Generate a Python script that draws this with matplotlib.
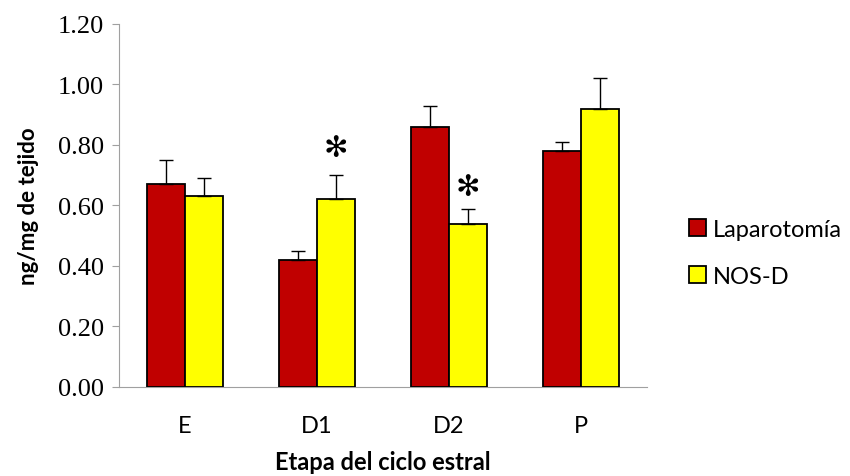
import matplotlib
matplotlib.use('Agg')
import matplotlib.pyplot as plt
import numpy as np

# etapas del ciclo estral
etapas = ['E', 'D1', 'D2', 'P']
laparotomia = [0.67, 0.42, 0.86, 0.78]
laparotomia_err = [0.08, 0.03, 0.07, 0.03]
nosd = [0.63, 0.62, 0.54, 0.92]
nosd_err = [0.06, 0.08, 0.05, 0.10]
# asteriscos de significancia (indice de etapa, altura)
signif = [(1, 0.79), (2, 0.66)]

fig = plt.figure(figsize=(8.5, 4.77), dpi=100)
ax = fig.add_axes([0.14, 0.1866, 0.621, 0.761])

x = np.arange(len(etapas))
w = 0.29
ax.bar(x - w/2, laparotomia, w, color='#C00000', edgecolor='black', linewidth=1.3,
       yerr=[np.zeros(4), laparotomia_err], error_kw=dict(ecolor='black', elinewidth=1, capsize=5, capthick=1),
       label='Laparotomía', zorder=3)
ax.bar(x + w/2, nosd, w, color='#FFFF00', edgecolor='black', linewidth=1.3,
       yerr=[np.zeros(4), nosd_err], error_kw=dict(ecolor='black', elinewidth=1, capsize=5, capthick=1),
       label='NOS-D', zorder=3)

for i, h in signif:
    ax.text(x[i] + w/2, h, '✻', ha='center', va='center', fontsize=21,
            family='DejaVu Sans', color='black')

ax.set_xlim(-0.5, 3.5)
ax.set_ylim(0, 1.2)
ax.set_yticks(np.arange(0, 1.21, 0.2))
ax.set_yticklabels(['%.2f' % v for v in np.arange(0, 1.21, 0.2)], family='Liberation Serif', fontsize=19)
ax.set_xticks(x)
ax.set_xticklabels(etapas, family='Lato', fontsize=17)
ax.tick_params(axis='x', length=0, pad=20)
ax.tick_params(axis='y', length=5, color='#A0A0A0', pad=6)

for s in ['top', 'right']:
    ax.spines[s].set_visible(False)
ax.spines['left'].set_color('#A0A0A0')
ax.spines['bottom'].set_color('#A0A0A0')

ax.set_xlabel('Etapa del ciclo estral', family='Lato', fontweight='bold', fontsize=17, labelpad=10)
ax.set_ylabel('ng/mg de tejido', family='Lato', fontweight='bold', fontsize=16, labelpad=13)

ax.legend(loc='center left', bbox_to_anchor=(1.04, 0.37), frameon=False,
          prop={'family': 'Lato', 'size': 17}, handlelength=0.7, handleheight=0.7,
          handletextpad=0.3, labelspacing=1.1)

fig.savefig('out.png', dpi=100)
